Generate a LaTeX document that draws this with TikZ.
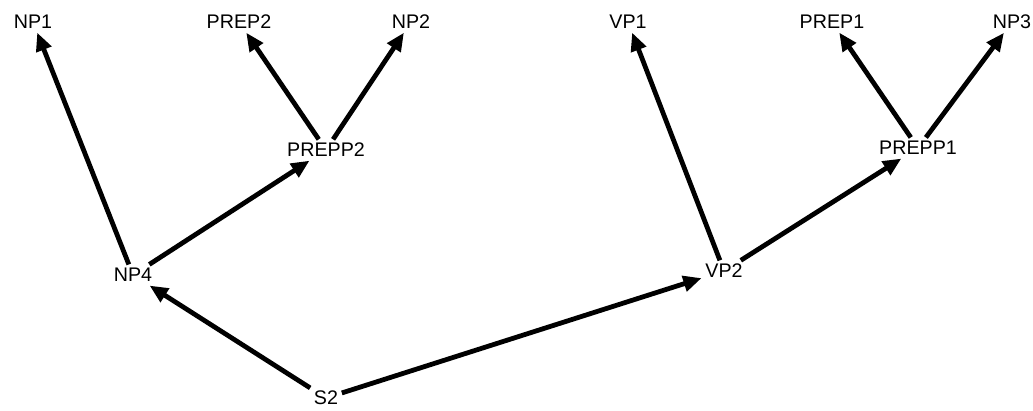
\documentclass[tikz,border=0pt]{standalone}
\usepackage{fontspec}
\setmainfont{Liberation Sans}
\usepackage{tikz}
\usetikzlibrary{arrows.meta, positioning}

\begin{document}
\begin{tikzpicture}[
  cat/.style={inner sep=2.5pt, font=\fontsize{14}{16}\selectfont},
  arrow/.style={-{Triangle[length=13pt, width=11pt]}, line width=3.4pt}
]
\useasboundingbox (0,0) rectangle (25.825,-10.275);

% top row
\node[cat] (np1) at (0.825,-0.55) {NP1};
\node[cat] (prep2) at (5.975,-0.55) {PREP2};
\node[cat] (np2) at (10.275,-0.55) {NP2};
\node[cat] (vp1) at (15.7,-0.55) {VP1};
\node[cat] (prep1) at (20.8,-0.55) {PREP1};
\node[cat] (np3) at (25.3,-0.55) {NP3};

% middle
\node[cat] (prepp2) at (8.15,-3.75) {PREPP2};
\node[cat] (prepp1) at (22.95,-3.7) {PREPP1};
\node[cat] (np4) at (3.325,-6.875) {NP4};
\node[cat] (vp2) at (18.1,-6.775) {VP2};

% root
\node[cat] (s2) at (8.15,-9.95) {S2};

\draw[arrow] (s2) -- (np4);
\draw[arrow] (s2) -- (vp2);
\draw[arrow] (np4) -- (np1);
\draw[arrow] (np4) -- (prepp2);
\draw[arrow] (prepp2) -- (prep2);
\draw[arrow] (prepp2) -- (np2);
\draw[arrow] (vp2) -- (vp1);
\draw[arrow] (vp2) -- (prepp1);
\draw[arrow] (prepp1) -- (prep1);
\draw[arrow] (prepp1) -- (np3);
\end{tikzpicture}
\end{document}
